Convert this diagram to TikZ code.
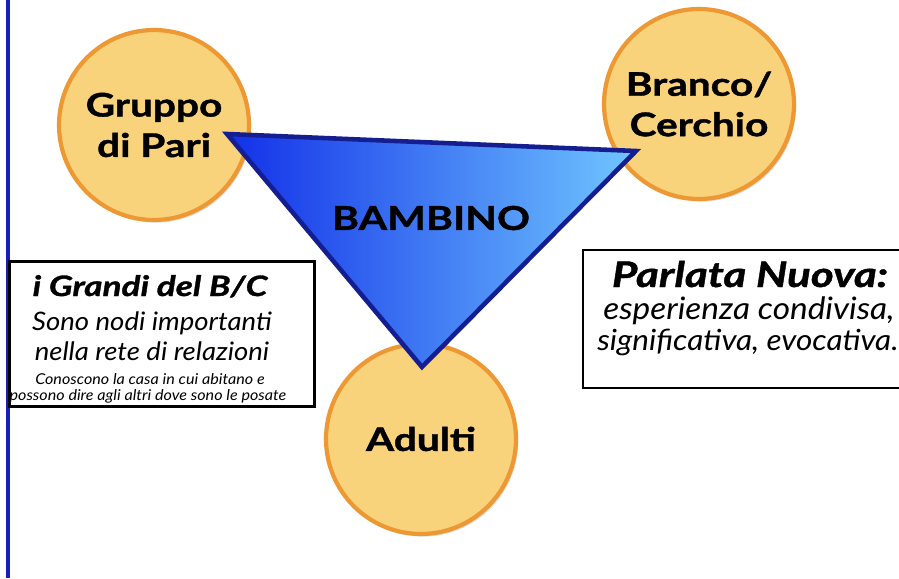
\documentclass[tikz,border=0pt]{standalone}
\usepackage{fontspec}
\setmainfont{Lato}[
    BoldFeatures={FakeStretch=1.25, FakeBold=1.2},
    BoldItalicFeatures={FakeStretch=1.25, FakeBold=1.2},
    ItalicFeatures={FakeStretch=1.08}]
\usetikzlibrary{shadows}
\definecolor{bubblefill}{RGB}{248, 211, 124}
\definecolor{bubbleedge}{RGB}{238, 152, 52}
\definecolor{triedge}{RGB}{20, 30, 145}
\definecolor{trileft}{RGB}{18, 48, 232}
\definecolor{triright}{RGB}{112, 198, 255}
\definecolor{sidebar}{RGB}{22, 32, 185}

\begin{document}
\begin{tikzpicture}[x=0.02cm, y=-0.02cm,
    bubble/.style={circle, draw=bubbleedge, line width=2.4pt, fill=bubblefill,
        minimum size=3.8cm, align=center,
        font=\fontsize{18.5}{23}\selectfont\bfseries,
        drop shadow={shadow xshift=1.2pt, shadow yshift=-1.5pt, opacity=0.25}},
    notebox/.style={draw=black, line width=1.6pt, fill=white, inner sep=0pt},
    riga/.style={anchor=base, inner sep=0pt}]
        \useasboundingbox (0,0) rectangle (899,578);
        \clip (0,0) rectangle (899,578);

        % barra laterale
        \draw[sidebar, line width=2.3pt] (8,0) -- (8,578);

        % i tre cerchi
        \node[bubble] (pari) at (154,125) {Gruppo\\di Pari};
        \node[bubble] (branco) at (699,104) {Branco/\\Cerchio};
        \node[bubble] (adulti) at (421,439) {Adulti};

        % triangolo al centro
        \coordinate (tl) at (227,134);
        \coordinate (tr) at (636,151);
        \coordinate (tb) at (422,367);
        \draw[triedge, line width=2.6pt, left color=trileft, right color=triright]
            (tl) -- (tr) -- (tb) -- cycle;
        \node[font=\fontsize{18.7}{22}\selectfont\bfseries] (bambino) at (431,218) {BAMBINO};

        % riquadro a sinistra
        \node[notebox, minimum width=6.1cm, minimum height=2.9cm] (grandi) at (162,334) {};
        \node[riga, font=\fontsize{16}{18}\selectfont\bfseries\itshape] (grandi1) at (150,296) {i Grandi del B/C};
        \node[riga, font=\fontsize{14.5}{17}\selectfont\itshape] (grandi2) at (152,330) {Sono nodi importanti};
        \node[riga, font=\fontsize{14.5}{17}\selectfont\itshape] (grandi3) at (152,360) {nella rete di relazioni};
        \node[riga, font=\fontsize{8.5}{10}\selectfont\itshape] (grandi4) at (150,384) {Conoscono la casa in cui abitano e};
        \node[riga, font=\fontsize{8.5}{10}\selectfont\itshape] (grandi5) at (148,400) {possono dire agli altri dove sono le posate};

        % riquadro a destra
        \node[notebox, minimum width=6.6cm, minimum height=2.76cm] (parlata) at (748,319) {};
        \node[riga, font=\fontsize{20}{22}\selectfont\bfseries\itshape] (parlata1) at (750,287) {Parlata Nuova:};
        \node[riga, font=\fontsize{17.6}{20}\selectfont\itshape] (parlata2) at (749,319) {esperienza condivisa,};
        \node[riga, font=\fontsize{16.6}{20}\selectfont\itshape] (parlata3) at (748,350) {significativa, evocativa.};
    \end{tikzpicture}
\end{document}
